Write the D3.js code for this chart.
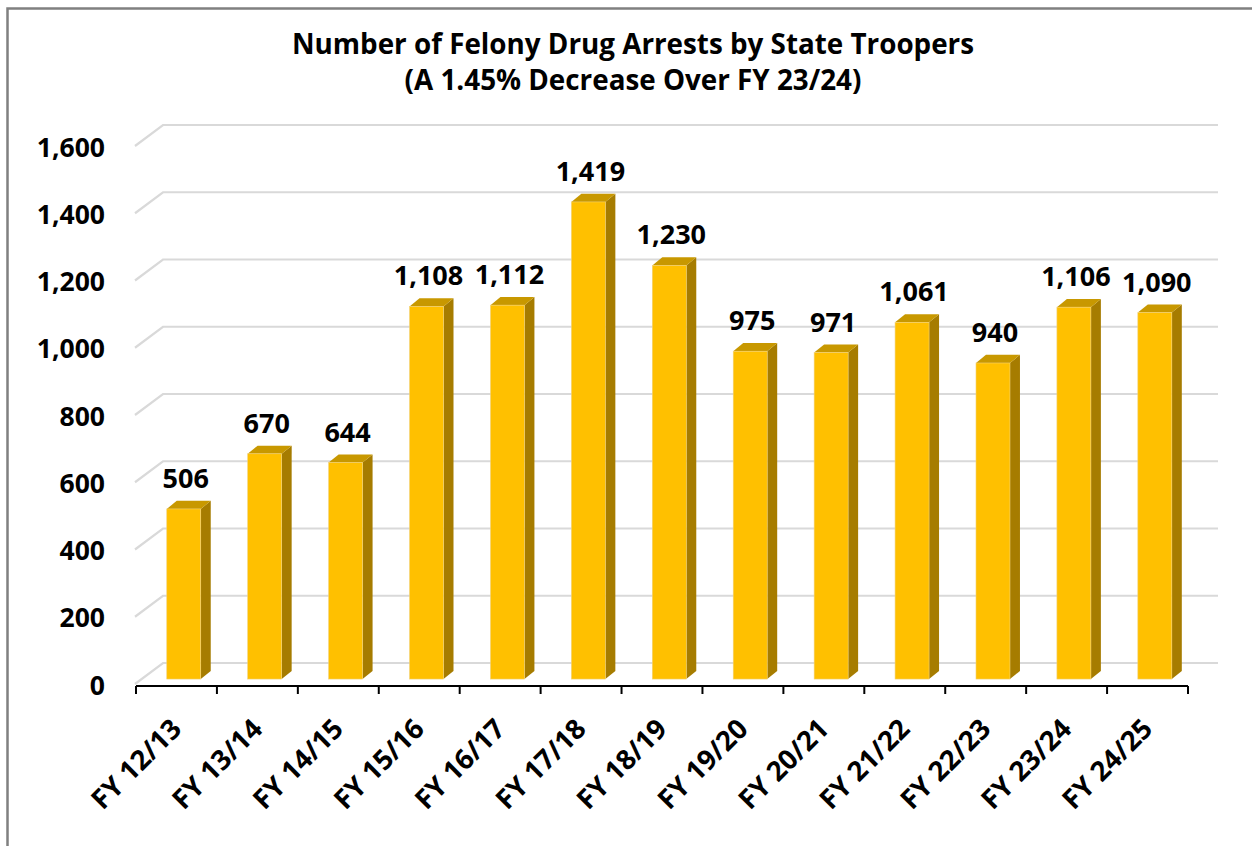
<!DOCTYPE html>
<html>
<head>
<meta charset="utf-8">
<script src="https://cdn.jsdelivr.net/npm/d3@7"></script>
<style>
html,body{margin:0;padding:0;background:#fff;}
svg{display:block;}
text{font-family:"Open Sans","Noto Sans",sans-serif;font-weight:bold;fill:#000;}
</style>
</head>
<body>
<svg id="chart" width="1252" height="846"></svg>
<script>
const categories = ["FY 12/13","FY 13/14","FY 14/15","FY 15/16","FY 16/17","FY 17/18","FY 18/19","FY 19/20","FY 20/21","FY 21/22","FY 22/23","FY 23/24","FY 24/25"];
const arrests = [506,670,644,1108,1112,1419,1230,975,971,1061,940,1106,1090];
const yTicks = [0,200,400,600,800,1000,1200,1400,1600];
const titleLines = ["Number of Felony Drug Arrests by State Troopers","(A 1.45% Decrease Over FY 23/24)"];

const svg = d3.select("#chart");
const W = 1252, H = 846;

// frame
svg.append("rect").attr("x",7.5).attr("y",8.5).attr("width",1300).attr("height",900)
  .attr("fill","#fff").attr("stroke","#808080").attr("stroke-width",2.5);

// geometry
const left = 136, right = 1188;
const depthX = 27, depthY = -22;
const x = d3.scaleBand().domain(categories).range([left,right]).paddingInner(0.58).paddingOuter(0.29);
const y = d3.scaleLinear().domain([0,1600]).range([685,147]);
const tBar = 0.27, tBack = 0.64;
const off = t => [depthX*t, depthY*t];

// title
svg.selectAll("text.title").data(titleLines).join("text")
  .attr("class","title").attr("x",633).attr("y",(d,i)=>54+i*36)
  .attr("text-anchor","middle").attr("font-size",27.8).text(d=>d);

// gridlines
const g = svg.append("g");
yTicks.forEach(v=>{
  const yf = y(v);
  g.append("path")
    .attr("d",`M${left-1},${yf-1} L${left+depthX},${yf+depthY} L${1218},${yf+depthY}`)
    .attr("fill","none").attr("stroke","#d9d9d9").attr("stroke-width",2.2);
});

// x axis line and ticks
const boundaries = d3.range(categories.length+1).map(i=>left + i*x.step());
svg.append("line").attr("x1",left).attr("x2",right).attr("y1",y(0)+1).attr("y2",y(0)+1)
  .attr("stroke","#000").attr("stroke-width",2);
svg.selectAll("line.tick").data(boundaries).join("line").attr("class","tick")
  .attr("x1",d=>d).attr("x2",d=>d).attr("y1",y(0)+1).attr("y2",y(0)+9)
  .attr("stroke","#000").attr("stroke-width",2);

// y labels
svg.selectAll("text.ylab").data(yTicks).join("text").attr("class","ylab")
  .attr("x",105).attr("y",d=>y(d)).attr("dy","0.36em").attr("text-anchor","end")
  .attr("font-size",26.5).text(d=>d3.format(",")(d));

// bars
const [bx0,by0] = off(tBar), [bx1,by1] = off(tBack);
const ddx = bx1-bx0, ddy = by1-by0;
const bars = svg.append("g").selectAll("g").data(categories.map((c,i)=>({c,v:arrests[i]}))).join("g");
bars.each(function(d){
  const gg = d3.select(this);
  const xl = x(d.c)+bx0, xr = xl + x.bandwidth();
  const yb = y(0)+by0, yt = y(d.v)+by0;
  gg.append("path").attr("d",`M${xr},${yb} L${xr+ddx},${yb+ddy} L${xr+ddx},${yt+ddy} L${xr},${yt} Z`)
    .attr("fill","#a67c00");
  gg.append("path").attr("d",`M${xl},${yt} L${xl+ddx},${yt+ddy} L${xr+ddx},${yt+ddy} L${xr},${yt} Z`)
    .attr("fill","#c89800");
  gg.append("rect").attr("x",xl).attr("y",yt).attr("width",x.bandwidth()).attr("height",yb-yt)
    .attr("fill","#ffc000").attr("stroke","#f2d27a").attr("stroke-width",0.6);
  gg.append("text").attr("x",xl + x.bandwidth()/2 + 2).attr("y",yt-21)
    .attr("text-anchor","middle").attr("font-size",27).text(d3.format(",")(d.v));
});

// x labels
svg.selectAll("text.xlab").data(categories).join("text").attr("class","xlab")
  .attr("transform",d=>`translate(${x(d)+x.bandwidth()/2-7},${717}) rotate(-45)`)
  .attr("text-anchor","end").attr("dy","0.7em").attr("font-size",27.5).text(d=>d);
</script>
</body>
</html>
